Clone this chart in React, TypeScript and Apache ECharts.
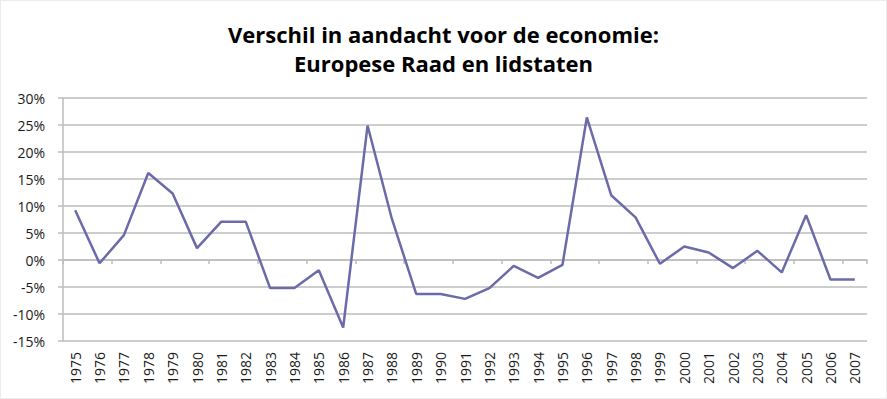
import React, { useEffect, useRef } from "react";
import * as echarts from "echarts";

const TITLE_LINE_1 = "Verschil in aandacht voor de economie:";
const TITLE_LINE_2 = "Europese Raad en lidstaten";

const years = [
  "1975", "1976", "1977", "1978", "1979", "1980", "1981", "1982", "1983", "1984",
  "1985", "1986", "1987", "1988", "1989", "1990", "1991", "1992", "1993", "1994",
  "1995", "1996", "1997", "1998", "1999", "2000", "2001", "2002", "2003", "2004",
  "2005", "2006", "2007",
];

const difference = [
  9.2, -0.6, 4.6, 16.1, 12.3, 2.2, 7.1, 7.1, -5.2, -5.2,
  -1.9, -12.5, 24.9, 7.6, -6.3, -6.3, -7.2, -5.2, -1.1, -3.3,
  -0.9, 26.4, 12.0, 7.9, -0.7, 2.5, 1.4, -1.5, 1.7, -2.3,
  8.3, -3.6, -3.6,
];

const yMin = -15;
const yMax = 30;
const yStep = 5;

export default function App() {
  const ref = useRef<HTMLDivElement>(null);

  useEffect(() => {
    if (!ref.current) return;
    const chart = echarts.init(ref.current, undefined, { renderer: "svg" });
    const font = "'Open Sans', 'DejaVu Sans', sans-serif";
    chart.setOption({
      animation: false,
      backgroundColor: "#ffffff",
      title: {
        text: TITLE_LINE_1 + "\n" + TITLE_LINE_2,
        left: "center",
        top: 13,
        textStyle: {
          fontFamily: font,
          fontWeight: "bold",
          fontSize: 22,
          lineHeight: 29,
          color: "#000000",
        },
      },
      grid: { left: 62, right: 19, top: 97, bottom: 57 },
      xAxis: [
        {
          type: "category",
          data: years,
          position: "bottom",
          boundaryGap: true,
          axisLine: { show: true, onZero: true, lineStyle: { color: "#bdbdbd", width: 1.5 } },
          axisTick: { show: true, length: 4, lineStyle: { color: "#bdbdbd", width: 1.5 } },
          axisLabel: { show: false },
          splitLine: { show: false },
        },
        {
          type: "category",
          data: years,
          position: "bottom",
          boundaryGap: true,
          axisLine: { show: false, onZero: false },
          axisTick: { show: false },
          axisLabel: {
            show: true,
            rotate: 90,
            interval: 0,
            margin: 11,
            fontFamily: font,
            fontSize: 14,
            color: "#1a1a1a",
          },
          splitLine: { show: false },
        },
      ],
      yAxis: {
        type: "value",
        min: yMin,
        max: yMax,
        interval: yStep,
        axisLine: { show: true, lineStyle: { color: "#bdbdbd", width: 1.5 } },
        axisTick: { show: true, length: 5, lineStyle: { color: "#bdbdbd", width: 1.5 } },
        axisLabel: {
          margin: 18,
          fontFamily: font,
          fontSize: 14,
          color: "#1a1a1a",
          formatter: (v: number) => `${v}%`,
        },
        splitLine: { show: true, lineStyle: { color: "#bdbdbd", width: 1.5 } },
      },
      series: [
        {
          type: "line",
          xAxisIndex: 0,
          data: difference,
          symbol: "none",
          lineStyle: { color: "#6b6ba9", width: 2.5 },
          itemStyle: { color: "#6b6ba9" },
        },
      ],
    });
    return () => chart.dispose();
  }, []);

  return (
    <div
      style={{
        position: "fixed",
        left: 0,
        top: 0,
        width: 887,
        height: 399,
        boxSizing: "border-box",
        border: "1px solid #ececec",
        background: "#fff",
      }}
    >
      <div ref={ref} style={{ width: 885, height: 397 }} />
    </div>
  );
}
